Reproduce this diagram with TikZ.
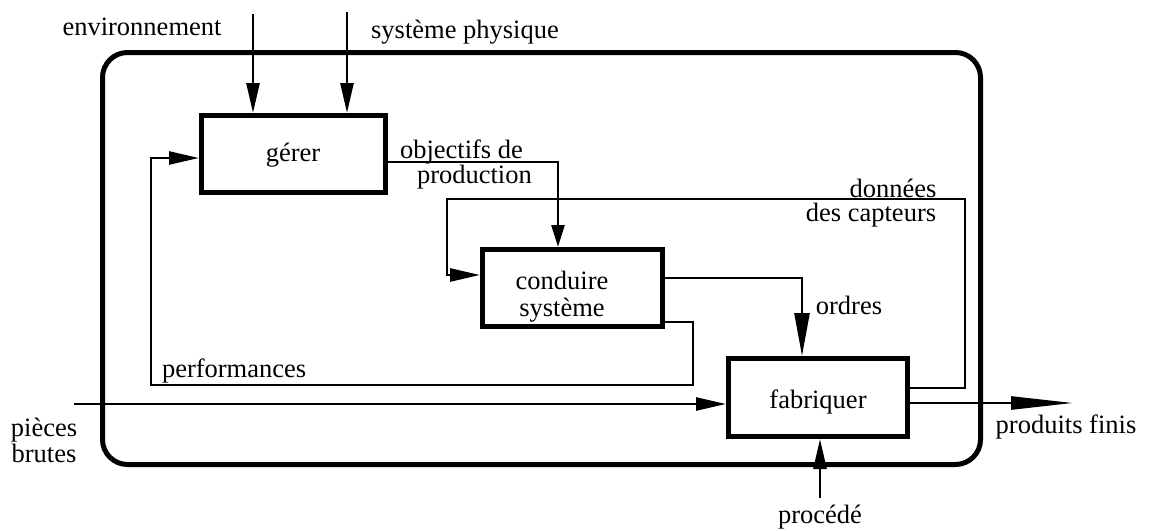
\documentclass[tikz,border=0pt]{standalone}
\usepackage{fontspec}
\setmainfont{Liberation Serif}
\usetikzlibrary{arrows.meta}
\tikzset{
  txt/.style={font=\fontsize{26.5}{27}\selectfont, inner sep=0pt, outer sep=0pt, align=center},
  box/.style={draw, line width=5pt, minimum width=#1, minimum height=78pt, inner sep=0pt},
  conn/.style={line width=2.6pt, line join=miter},
  tipA/.style={-{Triangle[length=30pt,width=13pt]}},
  tipS/.style={-{Triangle[length=22pt,width=13pt]}},
  tipL/.style={-{Triangle[length=43pt,width=15pt]}},
  tipX/.style={-{Triangle[length=62pt,width=13pt]}},
  frame/.style={line width=5pt, rounded corners=25pt}
}
\begin{document}
\begin{tikzpicture}[x=1pt,y=-1pt]
\useasboundingbox (0,0) rectangle (1150,530);
% outer frame
\draw[frame] (102.5,52.5) rectangle (980.5,464.5);
% boxes
\node[box=184pt, minimum height=77pt] (gerer) at (293.5,154) {};
\node[box=180pt, minimum height=77pt] (conduire) at (572.5,288) {};
\node[box=179pt, minimum height=78pt] (fabriquer) at (818,397.5) {};
% box texts
\node[txt] (tgerer) at (293,155) {gérer};
\node[txt] (tconduire) at (562,297) {conduire\\système};
\node[txt] (tfab) at (818,402) {fabriquer};
% free ends
\coordinate (env) at (253,14);
\coordinate (sys) at (347,12);
\coordinate (pb) at (74,404);
\coordinate (pf) at (1073,403);
\coordinate (proc) at (820,498);
% inputs to gerer
\draw[conn,tipA] (env) -- (gerer.north -| env);
\draw[conn,tipA] (sys) -- (gerer.north -| sys);
% objectifs de production
\draw[conn,tipS] (gerer.east |- 0,162) -- (558,162) -- (conduire.north -| 558,0);
% ordres
\draw[conn,tipL] (conduire.east |- 0,278) -- (802,278) -- (fabriquer.north -| 802,0);
% performances
\draw[conn,tipA] (conduire.east |- 0,322) -- (693,322) -- (693,385) -- (151,385) -- (151,158) -- (gerer.west |- 0,158);
% donnees des capteurs
\draw[conn,tipA] (fabriquer.east |- 0,388) -- (965,388) -- (965,199) -- (447,199) -- (447,275) -- (conduire.west |- 0,275);
% pieces brutes
\draw[conn,tipA] (pb) -- (fabriquer.west |- pb);
% produits finis
\draw[conn,tipX] (fabriquer.east |- pf) -- (pf);
% procede
\draw[conn,tipA] (proc) -- (fabriquer.south -| proc);
% labels
\node[txt] (lenv) at (142,27) {environnement};
\node[txt] (lsys) at (465,32) {système physique};
\node[txt, anchor=west] (lobj) at (400,152) {objectifs de};
\node[txt, anchor=west] (lprod) at (417,177) {production};
\node[txt] (ldon) at (893,188) {données};
\node[txt] (lcap) at (871,215) {des capteurs};
\node[txt] (lord) at (849,305) {ordres};
\node[txt, anchor=west] (lperf) at (162,371) {performances};
\node[txt, font=\fontsize{26.5}{26}\selectfont] (lpb) at (44,440) {pièces\\brutes};
\node[txt] (lpf) at (1066,427) {produits finis};
\node[txt] (lproc) at (820,517) {procédé};
\end{tikzpicture}
\end{document}
